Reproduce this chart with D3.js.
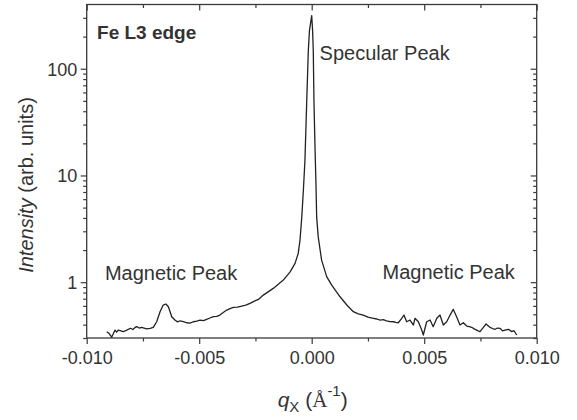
<!DOCTYPE html>
<html>
<head>
<meta charset="utf-8">
<script src="https://cdn.jsdelivr.net/npm/d3@7"></script>
<style>
  html, body { margin: 0; padding: 0; background: #fff; }
  svg { display: block; }
  text { font-family: "Liberation Sans", Arial, Helvetica, sans-serif; fill: #333; }
</style>
</head>
<body>
<svg id="chart" width="577" height="420"></svg>
<script>
// ---- data ----
const qx = [
  -0.00911, -0.00900, -0.00889, -0.00874, -0.00867, -0.00860, -0.00848, -0.00837, -0.00826, -0.00815,
  -0.00805, -0.00795, -0.00786, -0.00778, -0.00767, -0.00756, -0.00745, -0.00733, -0.00718, -0.00704,
  -0.00689, -0.00674, -0.00660, -0.00648, -0.00637, -0.00622, -0.00608, -0.00596, -0.00585, -0.00570,
  -0.00556, -0.00541, -0.00526, -0.00511, -0.00496, -0.00481, -0.00467, -0.00452, -0.00437, -0.00422,
  -0.00408, -0.00393, -0.00378, -0.00363, -0.00348, -0.00330, -0.00311, -0.00293, -0.00274, -0.00255,
  -0.00237, -0.00215, -0.00171, -0.00126, -0.00096, -0.00074, -0.00060, -0.00052, -0.00044, -0.00037,
  -0.00030, -0.00022, -0.00015, -0.00010, 0.00000, 0.00004, 0.00007, 0.00010, 0.00015, 0.00019,
  0.00022, 0.00029, 0.00044, 0.00067, 0.00089, 0.00126, 0.00156, 0.00185, 0.00207, 0.00229,
  0.00250, 0.00274, 0.00290, 0.00304, 0.00318, 0.00333, 0.00348, 0.00363, 0.00374, 0.00385,
  0.00400, 0.00410, 0.00422, 0.00437, 0.00452, 0.00459, 0.00474, 0.00489, 0.00496, 0.00511,
  0.00526, 0.00540, 0.00556, 0.00570, 0.00585, 0.00600, 0.00615, 0.00629, 0.00644, 0.00659,
  0.00674, 0.00689, 0.00700, 0.00711, 0.00722, 0.00733, 0.00740, 0.00748, 0.00763, 0.00775,
  0.00792, 0.00804, 0.00815, 0.00826, 0.00837, 0.00848, 0.00859, 0.00874, 0.00889, 0.00899,
  0.00911
];
const intensity = [
  0.344, 0.330, 0.305, 0.356, 0.340, 0.356, 0.350, 0.344, 0.352, 0.362,
  0.370, 0.360, 0.375, 0.383, 0.372, 0.378, 0.372, 0.366, 0.370, 0.378,
  0.426, 0.529, 0.611, 0.625, 0.589, 0.475, 0.442, 0.425, 0.435, 0.428,
  0.417, 0.414, 0.426, 0.432, 0.442, 0.436, 0.449, 0.462, 0.475, 0.478,
  0.492, 0.520, 0.548, 0.565, 0.581, 0.585, 0.598, 0.610, 0.634, 0.665,
  0.690, 0.757, 0.875, 1.046, 1.251, 1.50, 1.86, 2.48, 4.09, 7.27,
  13.9, 50.5, 148, 228, 315, 228, 148, 50.5, 17.2, 8.40,
  4.09, 2.66, 1.61, 1.123, 0.939, 0.730, 0.611, 0.529, 0.505, 0.492,
  0.470, 0.459, 0.452, 0.442, 0.445, 0.435, 0.428, 0.426, 0.420, 0.417,
  0.459, 0.492, 0.426, 0.442, 0.397, 0.459, 0.426, 0.356, 0.320, 0.426,
  0.442, 0.383, 0.459, 0.492, 0.397, 0.426, 0.492, 0.557, 0.475, 0.397,
  0.417, 0.388, 0.383, 0.378, 0.365, 0.356, 0.350, 0.344, 0.378, 0.406,
  0.378, 0.368, 0.362, 0.372, 0.370, 0.350, 0.356, 0.362, 0.344, 0.351,
  0.320
];
const xTicks = [-0.010, -0.005, 0.000, 0.005, 0.010];
const xMinorTicks = [-0.0075, -0.0025, 0.0025, 0.0075];
const yTicks = [1, 10, 100];
const yMinorTicks = [0.3, 0.4, 0.5, 0.6, 0.7, 0.8, 0.9, 2, 3, 4, 5, 6, 7, 8, 9, 20, 30, 40, 50, 60, 70, 80, 90, 200, 300];
const xDomain = [-0.010, 0.010];
const yDomain = [0.3, 400];
const annotations = [
  { text: "Fe L3 edge", q: -0.00954, v: 190, bold: true },
  { text: "Specular Peak", q: 0.00035, v: 122 },
  { text: "Magnetic Peak", q: -0.00919, v: 1.04 },
  { text: "Magnetic Peak", q: 0.00315, v: 1.08 }
];

// ---- layout ----
const L = 86.7, R = 536.7, T = 4.5, B = 338;
const svg = d3.select("#chart");
const x = d3.scaleLinear().domain(xDomain).range([L, R]);
const y = d3.scaleLog().domain(yDomain).range([B, T]);

const axisColor = "#3a3a3a";
const major = 6, minor = 3.5;

function styleAxis(g) {
  g.select(".domain").remove();
  g.selectAll("line").attr("stroke", axisColor).attr("stroke-width", 1.2);
  g.selectAll("text").attr("fill", "#333").style("font-size", "18px")
    .style("font-family", "'Liberation Sans', Arial, sans-serif");
}

// bottom axis (outward ticks)
svg.append("g").attr("transform", `translate(0,${B})`)
  .call(d3.axisBottom(x).tickValues(xTicks).tickSize(major).tickPadding(6)
    .tickFormat(d => d.toFixed(3)))
  .call(styleAxis)
  .call(g => g.selectAll("text").attr("dy", null).attr("y", 25.5));
svg.append("g").attr("transform", `translate(0,${B})`)
  .call(d3.axisBottom(x).tickValues(xMinorTicks).tickSize(minor).tickFormat(""))
  .call(styleAxis);

// top axis (inward ticks)
svg.append("g").attr("transform", `translate(0,${T})`)
  .call(d3.axisBottom(x).tickValues(xTicks).tickSize(major).tickFormat(""))
  .call(styleAxis);
svg.append("g").attr("transform", `translate(0,${T})`)
  .call(d3.axisBottom(x).tickValues(xMinorTicks).tickSize(minor).tickFormat(""))
  .call(styleAxis);

// left axis (outward ticks)
svg.append("g").attr("transform", `translate(${L},0)`)
  .call(d3.axisLeft(y).tickValues(yTicks).tickSize(major).tickPadding(4)
    .tickFormat(d3.format("d")))
  .call(styleAxis)
  .call(g => g.selectAll("text").attr("dy", null).attr("dominant-baseline", null).attr("y", 6.3).attr("x", -9.5));
svg.append("g").attr("transform", `translate(${L},0)`)
  .call(d3.axisLeft(y).tickValues(yMinorTicks).tickSize(minor).tickFormat(""))
  .call(styleAxis);

// right axis (inward ticks)
svg.append("g").attr("transform", `translate(${R},0)`)
  .call(d3.axisLeft(y).tickValues(yTicks).tickSize(major).tickFormat(""))
  .call(styleAxis);
svg.append("g").attr("transform", `translate(${R},0)`)
  .call(d3.axisLeft(y).tickValues(yMinorTicks).tickSize(minor).tickFormat(""))
  .call(styleAxis);

// frame
svg.append("rect").attr("x", L).attr("y", T).attr("width", R - L).attr("height", B - T)
  .attr("fill", "none").attr("stroke", axisColor).attr("stroke-width", 1.3);

// data line
const pts = qx.map((q, i) => [q, intensity[i]]);
svg.append("path").datum(pts)
  .attr("fill", "none").attr("stroke", "#222").attr("stroke-width", 1.3)
  .attr("stroke-linejoin", "round")
  .attr("d", d3.line().x(d => x(d[0])).y(d => y(d[1])));

// annotations
annotations.forEach(a => {
  svg.append("text").attr("x", x(a.q)).attr("y", y(a.v))
    .style("font-size", a.bold ? "19px" : "20px")
    .style("font-weight", a.bold ? "bold" : "normal")
    .text(a.text);
});

// axis titles
const xt = svg.append("text").attr("x", (L + R) / 2 + 1).attr("y", 406.5)
  .attr("text-anchor", "middle").style("font-size", "21px");
xt.append("tspan").style("font-style", "italic").text("q");
xt.append("tspan").style("font-size", "15px").attr("dy", 5).text("X");
xt.append("tspan").attr("dy", -5).text(" (");
xt.append("tspan").style("font-family", "'Liberation Serif', 'Times New Roman', serif").text("Å");
xt.append("tspan").style("font-size", "15px").attr("dy", -11).text("-1");
xt.append("tspan").attr("dy", 11).text(")");

const yt = svg.append("text").attr("transform", "translate(32.5,185) rotate(-90)")
  .attr("text-anchor", "middle").style("font-size", "20px");
yt.append("tspan").style("font-style", "italic").text("Intensity");
yt.append("tspan").text(" (arb. units)");
</script>
</body>
</html>
